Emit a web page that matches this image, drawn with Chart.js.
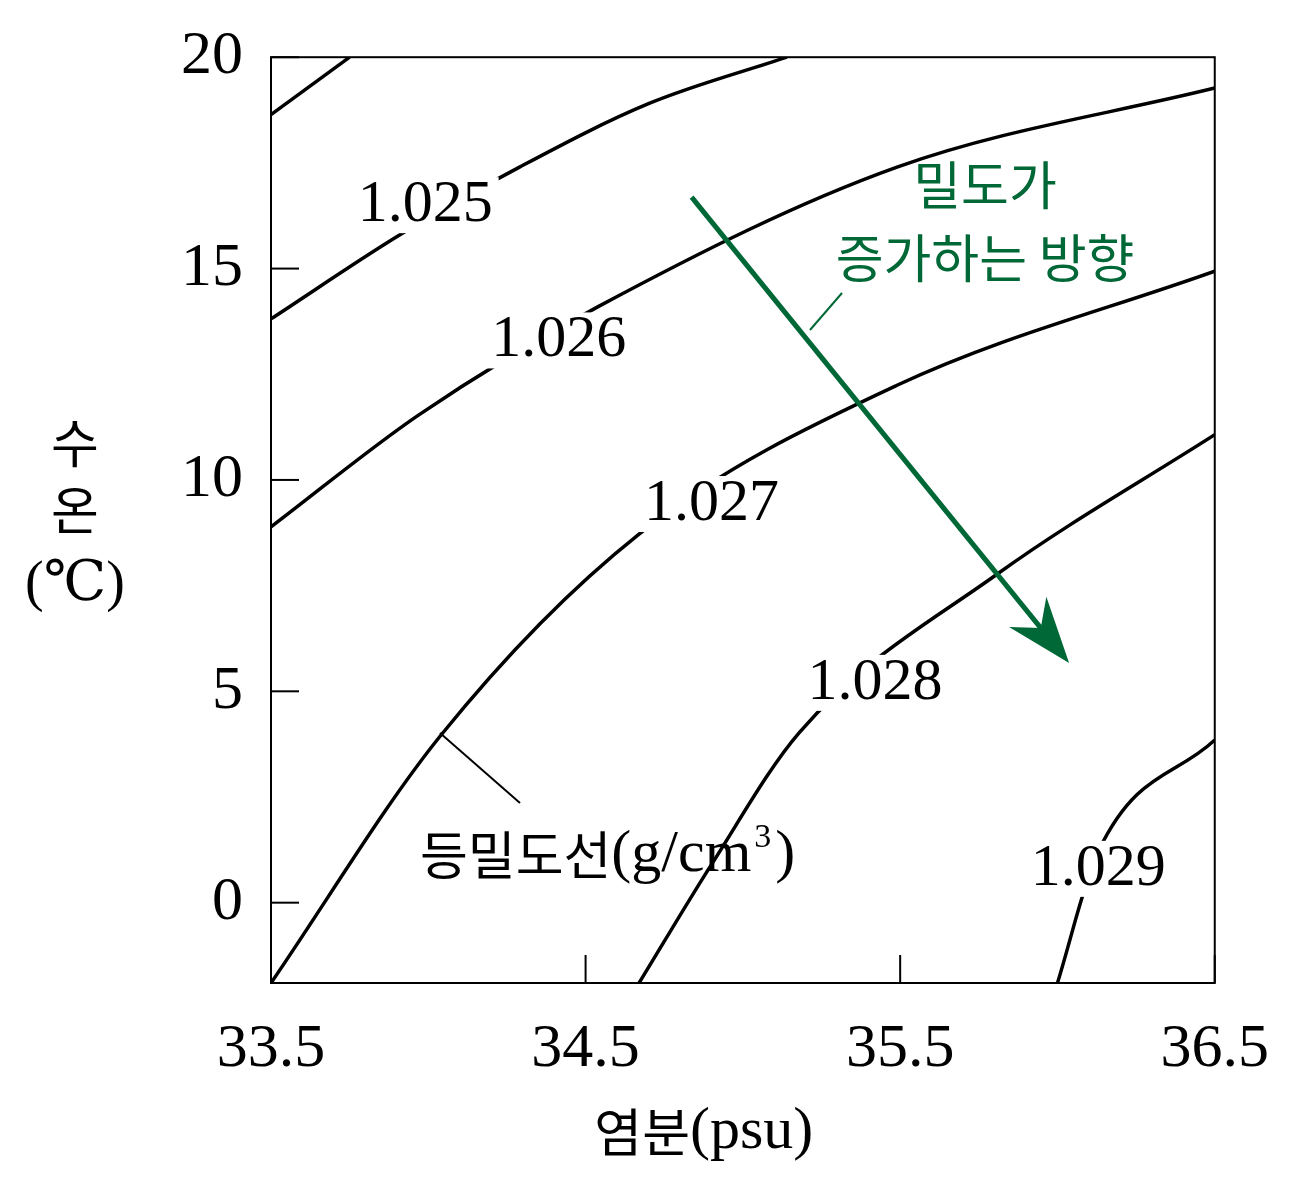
<!DOCTYPE html>
<html><head><meta charset="utf-8">
<script src="https://cdn.jsdelivr.net/npm/chart.js@4"></script>
<style>body{margin:0;background:#fff}</style></head>
<body><canvas id="c" width="1291" height="1191"></canvas>
<script>
const xTicks=[33.5,34.5,35.5,36.5];
const yTicks=[0,5,10,15,20];
const c1024=[{x:33.5,y:18.64},{x:33.75,y:20}];
const c1025=[{x:33.5,y:13.81},{x:33.91,y:15.8},{x:34.29,y:17.4},{x:34.7,y:18.9},{x:35.14,y:20}];
const c1026=[{x:33.5,y:8.89},{x:33.97,y:11.54},{x:34.54,y:14.1},{x:35.49,y:17.4},{x:36.5,y:19.27}];
const c1027=[{x:33.5,y:-1.9},{x:34.04,y:3.96},{x:34.67,y:8.72},{x:35.49,y:12.24},{x:36.5,y:14.94}];
const c1028=[{x:34.67,y:-1.9},{x:34.9,y:0.9},{x:35.18,y:4.03},{x:35.81,y:7.78},{x:36.5,y:11.07}];
const c1029=[{x:36.0,y:-1.9},{x:36.13,y:1.22},{x:36.5,y:3.85}];
const labels=[["1.025",33.99,16.5],["1.026",34.415,13.3],["1.027",34.9,9.43],["1.028",35.42,5.2],["1.029",36.13,0.8]];
const arrow=[{x:34.837,y:16.69},{x:36.037,y:5.67}];
const serif="'Liberation Serif','DejaVu Serif',serif";
const kr="'Noto Sans CJK KR',sans-serif";
const ds=d=>({data:d,borderColor:'#000',borderWidth:3.5,pointRadius:0,showLine:true,cubicInterpolationMode:'monotone',fill:false});
const plugin={id:'deco',afterDatasetsDraw(ch){
 const g=ch.ctx,X=ch.scales.x,Y=ch.scales.y,a=ch.chartArea;
 g.save();
 g.strokeStyle='#000';g.lineWidth=2;g.strokeRect(a.left,a.top,a.right-a.left,a.bottom-a.top);
 xTicks.forEach(v=>{const p=X.getPixelForValue(v);g.beginPath();g.moveTo(p,a.bottom);g.lineTo(p,a.bottom-28);g.stroke();});
 yTicks.forEach(v=>{const p=Y.getPixelForValue(v);g.beginPath();g.moveTo(a.left,p);g.lineTo(a.left+28,p);g.stroke();});
 g.font="60px "+serif;g.textAlign='center';g.textBaseline='middle';
 labels.forEach(([t,x,y])=>{const px=X.getPixelForValue(x),py=Y.getPixelForValue(y);const w=g.measureText(t).width;g.fillStyle='#fff';g.fillRect(px-w/2-6,py-28,w+12,56);g.fillStyle='#000';g.fillText(t,px,py);});
 const x0=X.getPixelForValue(arrow[0].x),y0=Y.getPixelForValue(arrow[0].y),x1=X.getPixelForValue(arrow[1].x),y1=Y.getPixelForValue(arrow[1].y);
 const ang=Math.atan2(y1-y0,x1-x0);
 g.strokeStyle='#006837';g.fillStyle='#006837';g.lineWidth=5;
 g.beginPath();g.moveTo(x0,y0);g.lineTo(x1-40*Math.cos(ang),y1-40*Math.sin(ang));g.stroke();
 g.beginPath();g.moveTo(x1,y1);g.lineTo(x1-70*Math.cos(ang-0.35),y1-70*Math.sin(ang-0.35));g.lineTo(x1-45*Math.cos(ang),y1-45*Math.sin(ang));g.lineTo(x1-70*Math.cos(ang+0.35),y1-70*Math.sin(ang+0.35));g.closePath();g.fill();
 g.lineWidth=2;g.beginPath();g.moveTo(810,330);g.lineTo(842,293);g.stroke();
 g.font="52px "+kr;g.fillText("밀도가",985,185);g.fillText("증가하는 방향",985,258);
 g.strokeStyle='#000';g.fillStyle='#000';g.beginPath();g.moveTo(440,733);g.lineTo(520,803);g.stroke();
 g.font="52px "+kr;g.textAlign='left';g.fillText("등밀도선",420,855);
 const w1=g.measureText("등밀도선").width;g.font="60px "+serif;g.fillText("(g/cm",420+w1,855);
 const w2=g.measureText("(g/cm").width;g.font="34px "+serif;g.fillText("3",420+w1+w2+3,838);
 g.font="60px "+serif;g.fillText(")",420+w1+w2+24,855);
 g.textAlign='center';g.font="52px "+kr;g.fillText("수",75,443);g.fillText("온",75,510);
 g.font="56px "+serif;g.fillText("(℃)",75,585);
 g.font="52px "+kr;g.textAlign='right';g.fillText("염분",690,1132);
 g.textAlign='left';g.font="60px "+serif;g.fillText("(psu)",690,1132);
 g.restore();}};
new Chart(document.getElementById('c'),{type:'scatter',
 data:{datasets:[c1024,c1025,c1026,c1027,c1028,c1029].map(ds)},
 options:{responsive:false,animation:false,layout:{padding:{top:46,right:73,left:0,bottom:0}},
  plugins:{legend:{display:false},tooltip:{enabled:false}},
  scales:{
   x:{type:'linear',min:33.5,max:36.5,afterBuildTicks(s){s.ticks=xTicks.map(v=>({value:v}));},afterFit(s){s.height=208;},
    grid:{display:false},border:{display:false},ticks:{padding:22,color:'#000',font:{family:serif,size:62},callback:v=>v.toFixed(1)}},
   y:{type:'linear',min:-1.9,max:20,afterBuildTicks(s){s.ticks=yTicks.map(v=>({value:v}));},afterFit(s){s.width=271;},
    grid:{display:false},border:{display:false},ticks:{padding:20,color:'#000',font:{family:serif,size:62}}}}},
 plugins:[plugin]});
</script></body></html>
